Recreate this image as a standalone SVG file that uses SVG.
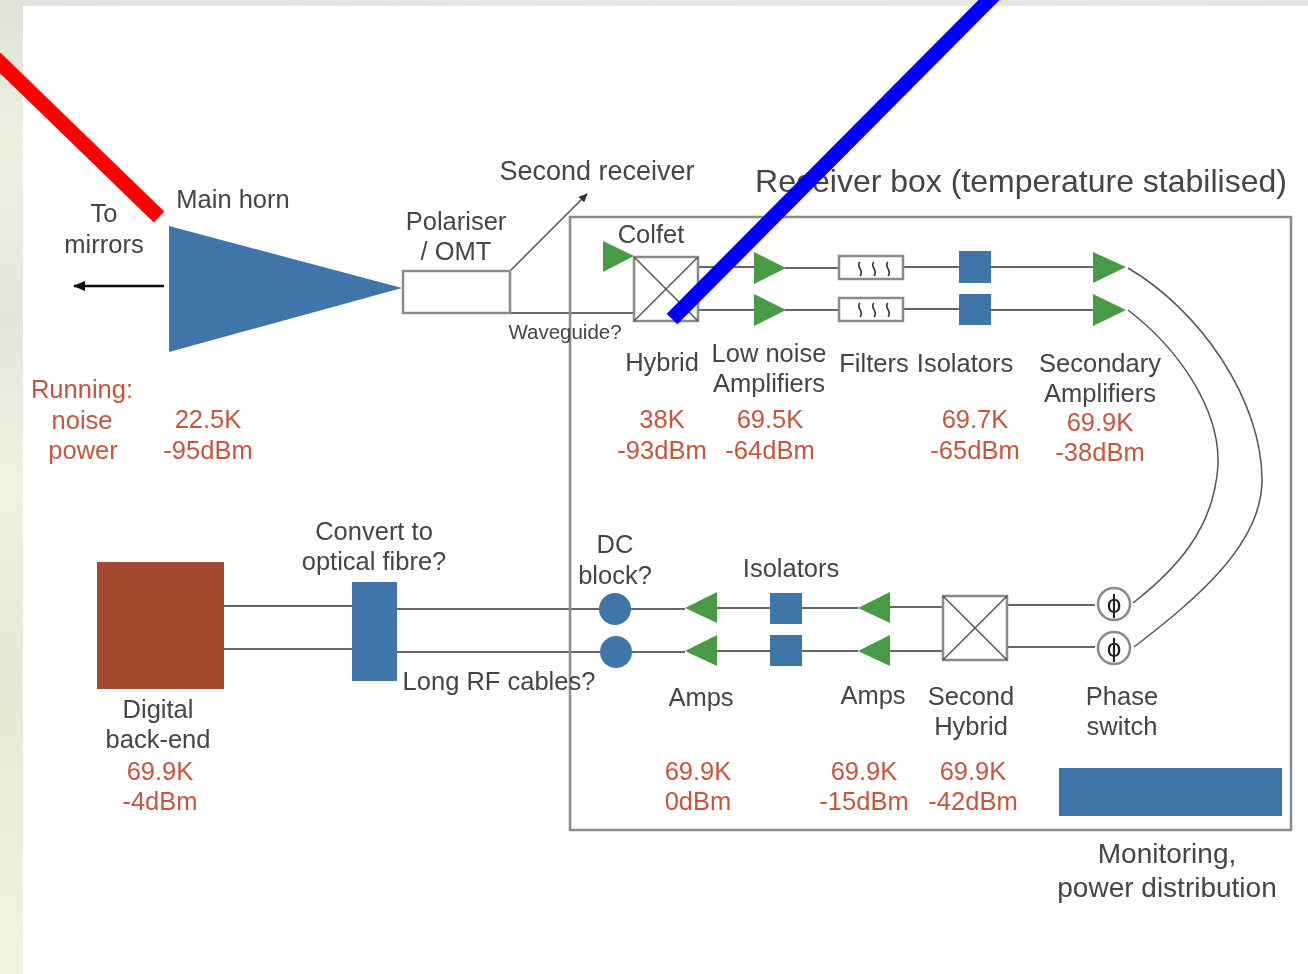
<svg xmlns="http://www.w3.org/2000/svg" width="1308" height="974" viewBox="0 0 1308 974">
<defs>
<linearGradient id="bgl" x1="0" y1="0" x2="0" y2="1"><stop offset="0" stop-color="#dfe3d8"/><stop offset="0.15" stop-color="#eef1e2"/><stop offset="0.33" stop-color="#e4e6dc"/><stop offset="0.5" stop-color="#f0f2e2"/><stop offset="0.7" stop-color="#e5e8d4"/><stop offset="0.85" stop-color="#ecefd8"/><stop offset="1" stop-color="#f2f4e0"/></linearGradient>
<linearGradient id="bgt" x1="0" y1="0" x2="1" y2="0"><stop offset="0" stop-color="#dfe3dc"/><stop offset="0.5" stop-color="#e6e9e4"/><stop offset="1" stop-color="#e2e6e6"/></linearGradient>
<marker id="ah" markerWidth="12" markerHeight="10" refX="11" refY="5" orient="auto" markerUnits="userSpaceOnUse"><path d="M0 0L12 5L0 10Z" fill="#111"/></marker>
<marker id="ah2" markerWidth="9" markerHeight="8" refX="8" refY="4" orient="auto" markerUnits="userSpaceOnUse"><path d="M0 0L9 4L0 8Z" fill="#333"/></marker>
<filter id="soft" x="0" y="0" width="100%" height="100%" filterUnits="userSpaceOnUse"><feGaussianBlur stdDeviation="0.5"/></filter>
</defs>
<style>
text{font-family:"Liberation Sans",Arial,sans-serif;font-size:25.5px;fill:#444;text-anchor:middle}
.r{fill:#c8553d}
.s{font-size:20.5px}
.l{stroke:#666;stroke-width:2;fill:none}
.b{stroke:#8a8a8a;stroke-width:2.5;fill:#fff}
.x{stroke:#555;stroke-width:1.5;fill:none}
.blue{fill:#3f75aa}
.green{fill:#4a9a45}
.squig{stroke:#333;stroke-width:1.6;fill:none}
.c{stroke:#555;stroke-width:1.5;fill:none}
</style>
<rect width="1308" height="974" fill="#fff"/>
<rect width="23" height="974" fill="url(#bgl)"/>
<rect width="1308" height="6" fill="url(#bgt)"/>

<g filter="url(#soft)">
<g id="connectors">
<path d="M164 286H74" style="stroke:#111;stroke-width:2.5;fill:none" marker-end="url(#ah)"/>
<path class="c" d="M510 271L587 194" marker-end="url(#ah2)"/>
<path class="l" d="M510 313H634"/>
<path class="l" d="M698 267H755M698 310H755M785 268H839M785 310H839M903 267H959M903 309H959M990 267H1094M990 310H1094"/>
<path class="c" d="M1128 268C1200 310 1262 400 1262 480C1262 545 1195 600 1134 647"/>
<path class="c" d="M1128 310C1180 350 1220 410 1218 465C1214 530 1175 570 1133 603"/>
<path class="l" d="M1007 605H1095M1007 647H1095M889 607H943M889 651H943M802 608H858M802 651H858M717 608H770M717 651H770M630 609H685M632 652H685"/>
<path class="l" d="M224 606H352M224 649H352M397 609H599M397 652H600"/>
</g>

<rect id="receiver-box" x="570" y="217" width="721" height="613" fill="none" stroke="#8a8a8a" stroke-width="2.5"/>

<g id="main-horn"><path class="blue" d="M169 226L402 288L169 352Z"/><text x="233" y="208">Main horn</text></g>
<g id="to-mirrors"><text x="104" y="222">To</text><text x="104" y="253">mirrors</text></g>
<g id="polariser"><rect class="b" x="403" y="271" width="107" height="42"/><text x="456" y="230">Polariser</text><text x="456" y="260">/ OMT</text></g>
<text id="second-receiver" x="597" y="180" style="font-size:27px">Second receiver</text>
<text id="waveguide" x="565" y="339" class="s">Waveguide?</text>
<text id="box-title" x="1021" y="192" style="font-size:32px">Receiver box (temperature stabilised)</text>

<g id="colfet"><path class="green" d="M603 241L634 256L603 272Z"/><text x="651" y="243">Colfet</text></g>
<g id="hybrid"><rect class="b" x="634" y="257" width="64" height="64"/><path class="x" d="M634 257L698 321M698 257L634 321"/><text x="662" y="371">Hybrid</text></g>
<g id="lna"><path class="green" d="M754 252L786 268L754 284Z"/><path class="green" d="M754 294L786 310L754 326Z"/><text x="769" y="362">Low noise</text><text x="769" y="392">Amplifiers</text></g>
<g id="filters">
<rect class="b" x="839" y="256" width="64" height="23"/><rect class="b" x="839" y="298" width="64" height="23"/>
<path class="squig" d="M860 262c-5 4 5 9 0 14M874 262c-5 4 5 9 0 14M888 262c-5 4 5 9 0 14M860 303c-5 4 5 9 0 14M874 303c-5 4 5 9 0 14M888 303c-5 4 5 9 0 14"/>
<text x="874" y="372">Filters</text></g>
<g id="isolators-top"><rect class="blue" x="959" y="251" width="32" height="32"/><rect class="blue" x="959" y="294" width="32" height="31"/><text x="965" y="372">Isolators</text></g>
<g id="secondary-amps"><path class="green" d="M1093 252L1126 267L1093 283Z"/><path class="green" d="M1093 294L1126 310L1093 326Z"/><text x="1100" y="372">Secondary</text><text x="1100" y="402">Amplifiers</text></g>

<g id="phase-switch">
<circle class="b" cx="1114" cy="604" r="16"/><circle class="b" cx="1114" cy="648" r="16"/>
<text x="1114" y="613" style="font-size:26px;fill:#222">ϕ</text><text x="1114" y="657" style="font-size:26px;fill:#222">ϕ</text>
<text x="1122" y="705">Phase</text><text x="1122" y="735">switch</text></g>
<g id="second-hybrid"><rect class="b" x="943" y="596" width="64" height="64"/><path class="x" d="M943 596L1007 660M1007 596L943 660"/><text x="971" y="705">Second</text><text x="971" y="735">Hybrid</text></g>
<g id="amps-right"><path class="green" d="M890 592L858 608L890 623Z"/><path class="green" d="M890 635L858 651L890 666Z"/><text x="873" y="704">Amps</text></g>
<g id="isolators-bottom"><rect class="blue" x="770" y="593" width="32" height="31"/><rect class="blue" x="770" y="635" width="32" height="31"/><text x="791" y="577">Isolators</text></g>
<g id="amps-left"><path class="green" d="M717 592L685 608L717 623Z"/><path class="green" d="M717 635L685 651L717 666Z"/><text x="701" y="706">Amps</text></g>
<g id="dc-block"><circle class="blue" cx="615" cy="609" r="16"/><circle class="blue" cx="616" cy="652" r="16"/><text x="615" y="553">DC</text><text x="615" y="584">block?</text></g>
<g id="optical"><rect class="blue" x="352" y="582" width="45" height="99"/><text x="374" y="540">Convert to</text><text x="374" y="570">optical fibre?</text></g>
<text id="long-rf" x="499" y="690">Long RF cables?</text>
<g id="digital-backend"><rect x="97" y="562" width="127" height="127" fill="#a5482f"/><text x="158" y="718">Digital</text><text x="158" y="748">back-end</text><text class="r" x="160" y="780">69.9K</text><text class="r" x="160" y="810">-4dBm</text></g>
<g id="monitoring"><rect class="blue" x="1059" y="768" width="223" height="48"/><text x="1167" y="863" style="font-size:28px">Monitoring,</text><text x="1167" y="897" style="font-size:28px">power distribution</text></g>

<g id="readings">
<text class="r" x="82" y="398">Running:</text><text class="r" x="82" y="429">noise</text><text class="r" x="83" y="459">power</text>
<text class="r" x="208" y="428">22.5K</text><text class="r" x="208" y="459">-95dBm</text>
<text class="r" x="662" y="428">38K</text><text class="r" x="662" y="459">-93dBm</text>
<text class="r" x="770" y="428">69.5K</text><text class="r" x="770" y="459">-64dBm</text>
<text class="r" x="975" y="428">69.7K</text><text class="r" x="975" y="459">-65dBm</text>
<text class="r" x="1100" y="431">69.9K</text><text class="r" x="1100" y="461">-38dBm</text>
<text class="r" x="698" y="780">69.9K</text><text class="r" x="698" y="810">0dBm</text>
<text class="r" x="864" y="780">69.9K</text><text class="r" x="864" y="810">-15dBm</text>
<text class="r" x="973" y="780">69.9K</text><text class="r" x="973" y="810">-42dBm</text>
</g>
</g>

<g id="overlay-lines">
<path d="M-5 58L159 217" stroke="#ff0000" stroke-width="15" fill="none"/>
<path d="M994 -5L672 319" stroke="#0000ff" stroke-width="15" fill="none"/>
</g>
</svg>
